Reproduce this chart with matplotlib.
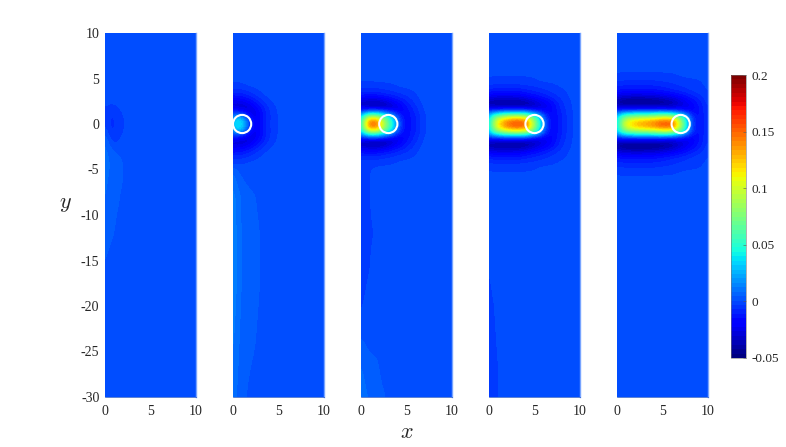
import numpy as np
import matplotlib
matplotlib.use('Agg')
import matplotlib.pyplot as plt
from matplotlib.patches import Circle
from matplotlib.cm import ScalarMappable
from matplotlib.colors import Normalize

plt.rcParams['font.family'] = ['Liberation Serif', 'DejaVu Serif']
plt.rcParams['mathtext.fontset'] = 'cm'
plt.rcParams['axes.unicode_minus'] = False

x_ticks = [0, 5, 10]
y_ticks = [10, 5, 0, -5, -10, -15, -20, -25, -30]
cbar_ticks = [-0.05, 0, 0.05, 0.1, 0.15, 0.2]
cbar_labels = ['-0.05', '0', '0.05', '0.1', '0.15', '0.2']
circle_x = [None, 1, 3, 5, 7]

# Values. Short rows end in background (0).
x1 = [0, .5, 1, 1.5, 2, 2.5, 3, 3.5, 4, 5, 7, 10]
y1 = [10, 4, 3, 2.5, 2, 1.5, 1, .5, 0, -.5, -1, -1.5, -2, -2.5, -3, -3.5, -4.5, -6, -8, -12, -16, -22, -30]
z1 = [[], [], [], [0, -.0015, -.001],
      [-.002, -.003, -.003, -.002], [-.002, -.005, -.005, -.003, -.0015],
      [-.002, -.0065, -.0065, -.0035, -.0022, -.0005], [-.002, -.007, -.007, -.004, -.0025, -.001],
      [-.002, -.007, -.007, -.004, -.0025, -.0015], [0, -.007, -.007, -.004, -.0025, -.001],
      [.003, -.005, -.0065, -.0035, -.002, -.0005], [.005, -.003, -.005, -.003, -.0015],
      [.007, 0, -.003, -.002], [.008, .002, 0, -.0015], [.008, .004, .002],
      [.009, .005, .003, .0025, .0015], [.009, .006, .004, .003, .0022],
      [.008, .005, .004, .003, .0022], [.007, .004, .003, .0025, .001],
      [.004, .003, .002, .001], [.002], [], []]

x2 = [0, .5, 1, 1.5, 2, 2.5, 3, 3.5, 4, 5, 7, 10]
y2 = [10, 6, 4.5, 4, 3.5, 3, 2.5, 2, 1.5, 1, .5, 0, -.5, -1, -1.5, -2, -2.5, -3, -3.5, -4, -4.5, -5, -6, -8, -12, -18, -24, -30]
z2_top = [[], [], [-.002, -.002, -.002, -.001],
          [-.005, -.005, -.005, -.004, -.003, -.002, -.001],
          [-.01, -.01, -.009, -.008, -.006, -.004, -.0025, -.001],
          [-.017, -.017, -.016, -.014, -.011, -.008, -.005, -.003, -.001],
          [-.026, -.026, -.024, -.022, -.018, -.014, -.01, -.006, -.003],
          [-.03, -.032, -.032, -.03, -.026, -.02, -.015, -.009, -.005, -.001],
          [-.018, -.022, -.025, -.028, -.028, -.024, -.018, -.012, -.007, -.001],
          [.005, .01, .004, -.012, -.025, -.026, -.02, -.013, -.007, -.0015],
          [.02, .035, .028, .008, -.016, -.024, -.02, -.012, -.007, -.0015]]
z2_mid = [[.025, .045, .035, .012, -.015, -.024, -.02, -.012, -.007, -.0015]]
z2_far = [[.005, .001], [.009, .004, .002, .001],
          [.013, .008, .005, .004, .003, .002, .001],
          [.014, .009, .005, .004, .003, .003, .002],
          [.014, .009, .005, .004, .003, .003, .002],
          [.012, .007, .004, .003, .003, .002, .001],
          [.009, .005, .003, .002, .001]]

x3 = [0, .5, 1, 1.5, 2, 2.5, 3, 3.5, 4, 4.5, 5, 6, 7, 8, 10]
y3 = [10, 5.2, 4.5, 4, 3.5, 3, 2.5, 2, 1.5, 1, .5, 0, -.5, -1, -1.5, -2, -2.5, -3, -3.5, -4, -4.5,
      -5.2, -6, -8, -12, -16, -20, -22, -23.5, -26, -30]
z3_top = [[], [],
          [-.003, -.003, -.003, -.003, -.0028, -.0025, -.0022, -.0018, -.001],
          [-.006, -.006, -.006, -.006, -.0055, -.005, -.0045, -.004, -.003, -.0025, -.002, -.001],
          [-.011, -.011, -.011, -.011, -.01, -.009, -.008, -.007, -.006, -.005, -.004, -.002],
          [-.018, -.019, -.02, -.02, -.019, -.017, -.015, -.013, -.011, -.009, -.007, -.003],
          [-.032, -.035, -.036, -.036, -.035, -.032, -.028, -.023, -.019, -.015, -.012, -.005],
          [-.035, -.038, -.04, -.04, -.04, -.04, -.037, -.032, -.026, -.02, -.015, -.007, -.001],
          [-.015, -.012, -.01, -.01, -.012, -.015, -.02, -.022, -.024, -.022, -.018, -.009, -.0015],
          [.02, .045, .06, .06, .055, .04, .025, .01, -.008, -.017, -.018, -.011, -.0025],
          [.04, .09, .125, .13, .11, .08, .06, .035, .008, -.013, -.018, -.012, -.002]]
z3_mid = [[.045, .105, .155, .165, .135, .09, .07, .04, .012, -.012, -.018, -.012, -.002]]
z3_far = [[-.004, -.003, -.0025, -.001], [-.004, -.003, -.0023, -.001],
          [-.004, -.003, -.0022, -.001], [-.007, -.003, -.0025, -.0021, -.001],
          [-.0065, -.003, -.0021, -.001], [-.003, -.001], [], [.0021, .001],
          [.006, .004, .003, .0025, .002], [.010, .0063, .006, .004, .003, .0025, .0015]]

x4 = [0, .25, 1, 2, 3, 4, 4.5, 5, 5.5, 6, 6.5, 7, 8, 9, 10]
y4 = [10, 6, 5.2, 4.5, 4, 3.5, 3, 2.5, 2, 1.5, 1, .5, 0, -.5, -1, -1.5, -2, -2.5, -3, -3.5, -4, -4.5,
      -5.2, -6, -12, -14, -20, -26, -30]
z4_top = [[], [], [-.002, -.0022, -.0025, -.0025, -.0025, -.0023, -.0022, -.002, -.001],
          [-.005, -.005, -.005, -.005, -.005, -.0045, -.004, -.0035, -.003, -.0028, -.0025, -.0022, -.001],
          [-.009, -.009, -.01, -.01, -.01, -.009, -.008, -.0075, -.0065, -.0055, -.0045, -.0035, -.0022, -.0005],
          [-.015, -.016, -.017, -.017, -.017, -.015, -.013, -.012, -.01, -.009, -.0075, -.006, -.0035, -.001],
          [-.025, -.027, -.029, -.029, -.028, -.025, -.021, -.019, -.017, -.014, -.012, -.009, -.005, -.0015],
          [-.038, -.04, -.043, -.043, -.043, -.04, -.036, -.033, -.028, -.024, -.02, -.016, -.007, -.002],
          [-.035, -.037, -.04, -.04, -.04, -.04, -.038, -.036, -.032, -.028, -.024, -.019, -.0085, -.0022],
          [-.015, -.014, -.012, -.01, -.01, -.012, -.016, -.019, -.022, -.023, -.022, -.02, -.01, -.0025],
          [.02, .035, .055, .065, .07, .065, .05, .035, .018, -.004, -.016, -.02, -.011, -.003],
          [.03, .055, .10, .125, .135, .125, .10, .075, .04, .008, -.012, -.02, -.011, -.003]]
z4_mid = [[.03, .06, .12, .155, .17, .165, .12, .085, .05, .012, -.012, -.02, -.011, -.003]]
z4_far = [[], [], [-.0025],
          [-.0035, -.003, -.001], [-.005, -.0035, -.0021], [-.004, -.003, -.0022]]

x5 = [0, .25, 1, 2, 3, 4, 5, 6, 6.5, 7, 7.5, 8, 8.5, 9, 10]
y5 = [10, 6.3, 5.7, 5, 4, 3.5, 3, 2.5, 2, 1.5, 1, .5, 0, -.5, -1, -1.5, -2, -2.5, -3, -3.5, -4, -5, -5.7, -6.3, -30]
z5_top = [[], [],
          [-.002, -.0022, -.0022, -.0022, -.0022, -.0022, -.0022, -.002, -.0015, -.001],
          [-.004, -.0045, -.005, -.005, -.005, -.005, -.0045, -.004, -.0035, -.003, -.0028, -.0025, -.0023, -.002, -.001],
          [-.011, -.012, -.013, -.013, -.013, -.0125, -.011, -.009, -.008, -.007, -.006, -.005, -.004, -.0035, -.0015],
          [-.018, -.019, -.021, -.021, -.021, -.02, -.018, -.015, -.013, -.012, -.01, -.008, -.0065, -.005, -.002],
          [-.03, -.033, -.035, -.035, -.035, -.034, -.031, -.027, -.024, -.021, -.018, -.015, -.012, -.009, -.003],
          [-.04, -.044, -.047, -.048, -.048, -.047, -.044, -.04, -.035, -.03, -.026, -.021, -.017, -.013, -.004],
          [-.035, -.038, -.042, -.042, -.042, -.042, -.04, -.038, -.034, -.031, -.028, -.024, -.02, -.015, -.005],
          [-.015, -.014, -.012, -.01, -.01, -.01, -.012, -.016, -.018, -.02, -.022, -.022, -.021, -.016, -.006],
          [.02, .033, .05, .055, .055, .06, .065, .06, .05, .035, .018, -.003, -.014, -.016, -.006],
          [.03, .05, .09, .105, .11, .115, .125, .125, .10, .08, .045, .008, -.011, -.016, -.006]]
z5_mid = [[.03, .06, .11, .135, .145, .155, .17, .17, .13, .09, .05, .012, -.01, -.016, -.006]]
z5_far = [[], []]


def mirror(top, mid, far):
    return top + mid + top[::-1][:len(top) - 2] + far


def field(xs, ys, rows):
    grid = np.zeros((len(ys), len(xs)))
    for i, row in enumerate(rows):
        grid[i, :len(row)] = row
    return grid


def smooth(xs, ys, grid):
    """Fine grid for the contour fill, softening the kinks of the coarse reading."""
    fx = np.linspace(0, 10, 201)
    fy = np.linspace(-30, 10, 801)
    ya = np.array(ys, float)[::-1]
    a = np.array([np.interp(fx, xs, r) for r in grid[::-1]])
    b = np.array([np.interp(fy, ya, c) for c in a.T]).T
    n = 11
    k = np.ones(n) / n
    for _ in range(3):
        b = np.pad(b, n, mode='edge')
        b = np.apply_along_axis(lambda v: np.convolve(v, k, mode='same'), 0, b)
        b = np.apply_along_axis(lambda v: np.convolve(v, k, mode='same'), 1, b)
        b = b[n:-n, n:-n]
    return fx, fy, b


panels = [(x1, y1, z1),
          (x2, y2, mirror(z2_top, z2_mid, z2_far)),
          (x3, y3, mirror(z3_top, z3_mid, z3_far)),
          (x4, y4, mirror(z4_top, z4_mid, z4_far)),
          (x5, y5, mirror(z5_top, z5_mid, z5_far))]

W, H = 786, 447
fig = plt.figure(figsize=(W / 100, H / 100), dpi=100)
lefts = [105, 233, 361, 489, 617]
norm = Normalize(-0.05, 0.2)
h = 0.25 / 60
levels = np.arange(-0.05 - h / 2, 0.2 + h, h)
text_c = '#262626'

for i, (xs, ys, rows) in enumerate(panels):
    ax = fig.add_axes([lefts[i] / W, 1 - 397 / H, 91 / W, 364 / H])
    fx, fy, f = smooth(xs, ys, field(xs, ys, rows))
    ax.contourf(fx, fy, f, levels=levels, cmap='jet', norm=norm, extend='both')
    if circle_x[i] is not None:
        ax.add_patch(Circle((circle_x[i], 0), 1, fill=False, ec='white', lw=1.5))
    ax.set_xlim(0, 10)
    ax.set_ylim(-30, 10)
    ax.set_xticks(x_ticks)
    if i == 0:
        ax.set_yticks(y_ticks)
    else:
        ax.set_yticks([])
    ax.tick_params(axis='x', length=0, labelsize=10, labelcolor=text_c, pad=6)
    ax.tick_params(axis='y', length=0, labelsize=10, labelcolor=text_c, pad=4)
    ax.spines['top'].set_visible(False)
    ax.spines['left'].set_visible(False)
    ax.spines['right'].set_color('#78a4ff')
    ax.spines['right'].set_linewidth(1)
    ax.spines['bottom'].set_color('#1a4fc0')
    ax.spines['bottom'].set_linewidth(0.5)

fig.text(407 / W, 1 - 433 / H, r'$x$', fontsize=16, ha='center', va='center', color=text_c)
fig.text(65 / W, 1 - 204 / H, r'$y$', fontsize=16, ha='center', va='center', color=text_c)

cax = fig.add_axes([731 / W, 1 - 358 / H, 15 / W, 283 / H])
cb = fig.colorbar(ScalarMappable(norm=norm, cmap=plt.get_cmap('jet', 64)), cax=cax, ticks=cbar_ticks)
cb.ax.set_yticklabels(cbar_labels)
cb.ax.tick_params(length=2, width=0.4, direction='in', labelsize=9.5, labelcolor=text_c, color='#555555', pad=4)
cb.outline.set_linewidth(0.4)
cb.outline.set_edgecolor('#777777')

fig.savefig('out.png', dpi=100)
